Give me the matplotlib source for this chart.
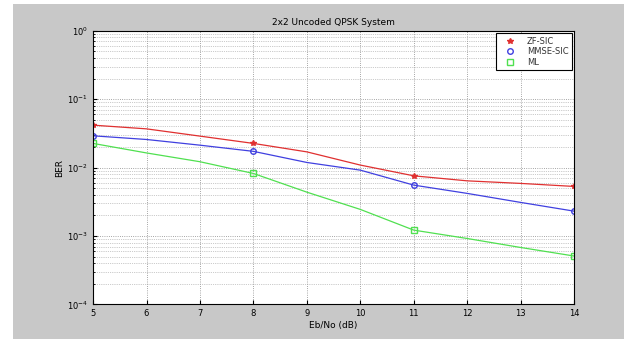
import matplotlib
matplotlib.use('Agg')
import matplotlib.pyplot as plt
from matplotlib.patches import Rectangle
from matplotlib.lines import Line2D

# Eb/No in dB
ebno = [5, 6, 7, 8, 9, 10, 11, 12, 13, 14]
# BER curves
ber_zf = [0.0418, 0.0369, 0.0289, 0.0226, 0.0170, 0.0109, 0.00759, 0.00641, 0.00588, 0.00531]
ber_mmse = [0.0292, 0.0258, 0.0213, 0.0173, 0.0119, 0.00919, 0.00555, 0.00420, 0.00310, 0.00231]
ber_ml = [0.0226, 0.0164, 0.0122, 0.00822, 0.00438, 0.00245, 0.00122, 0.00092, 0.00068, 0.00051]
labels = ['ZF-SIC', 'MMSE-SIC', 'ML']
colors = ['#e03030', '#4040e0', '#50e050']
markers = ['*', 'o', 's']

fig = plt.figure(figsize=(6.33, 3.39), dpi=100)
fig.patch.set_facecolor('white')
# gray matlab-style figure background
fig.patches.append(Rectangle((0.02, 0.0), 0.965, 0.988, transform=fig.transFigure,
                             facecolor='#c8c8c8', edgecolor='none', zorder=-10))

ax = fig.add_axes([0.147, 0.102, 0.76, 0.807])
ax.set_facecolor('white')

for ys, c, m in zip([ber_zf, ber_mmse, ber_ml], colors, markers):
    ax.semilogy(ebno, ys, color=c, marker=m, markersize=4, mfc='none' if m != '*' else c,
                markevery=3, lw=0.9)

ax.set_xlim(5, 14)
ax.set_ylim(1e-4, 1)
ax.set_xticks(range(5, 15))
ax.grid(True, which='major', linestyle=':', color='#888888', lw=0.6)
ax.grid(True, which='minor', axis='y', linestyle=':', color='#999999', lw=0.5)
ax.tick_params(labelsize=6, direction='in', length=3)
ax.tick_params(which='minor', direction='in', length=1.5)
for s in ax.spines.values():
    s.set_linewidth(0.8)

ax.set_title('2x2 Uncoded QPSK System', fontsize=6.5, pad=4)
ax.set_xlabel('Eb/No (dB)', fontsize=6.5, labelpad=2)
ax.set_ylabel('BER', fontsize=6.5, labelpad=2)

# matlab legend shows only the markers
handles = [Line2D([], [], color=c, marker=m, linestyle='none', markersize=4,
                  mfc='none' if m != '*' else c) for c, m in zip(colors, markers)]
leg = ax.legend(handles, labels, loc='upper right', fontsize=6, fancybox=False,
                edgecolor='black', framealpha=1, borderaxespad=0.3,
                handlelength=2.5, handletextpad=0.8, labelspacing=0.2,
                borderpad=0.4)
leg.get_frame().set_linewidth(0.8)
for t in leg.get_texts():
    t.set_color('#333333')

fig.savefig('out.png', dpi=100)
